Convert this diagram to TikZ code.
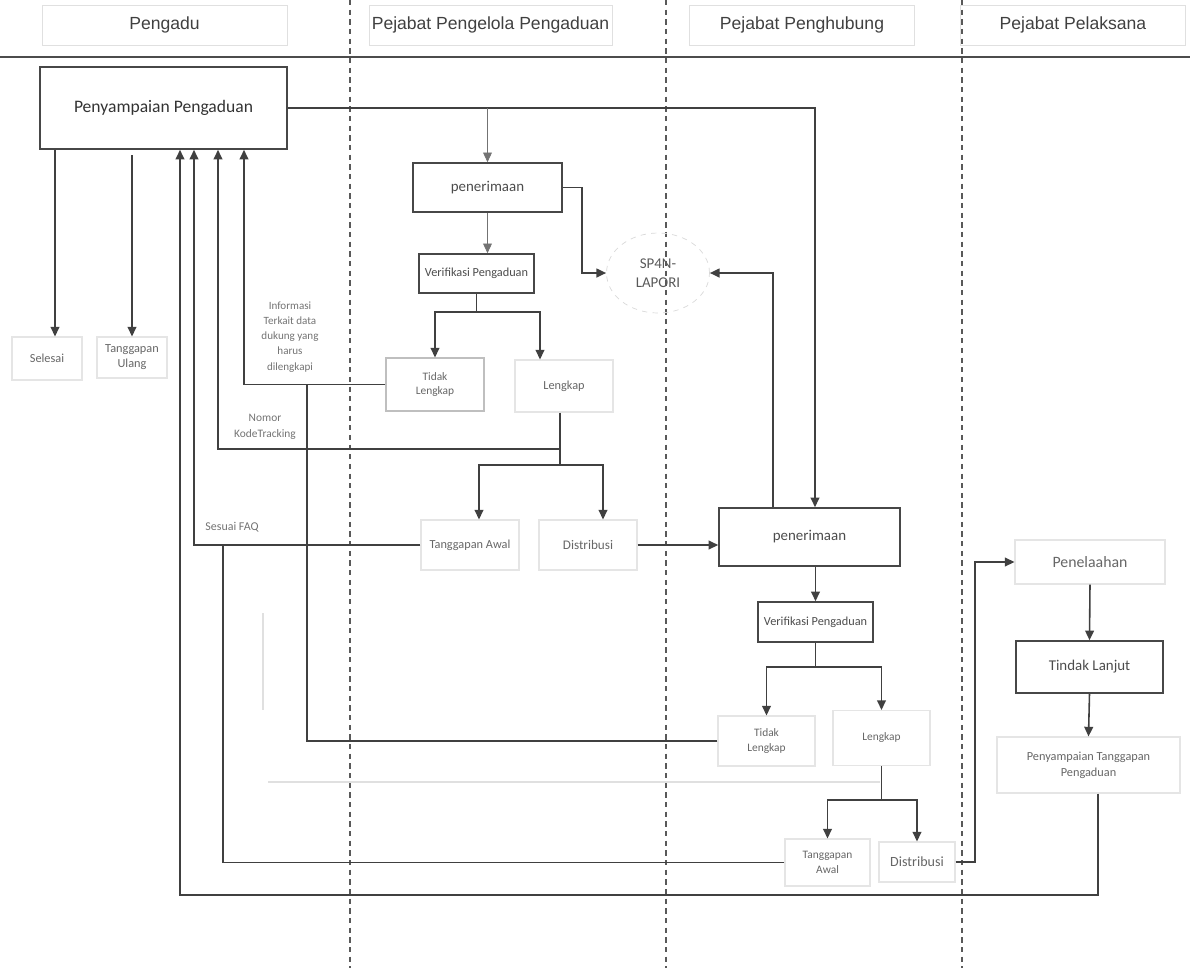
\documentclass[tikz,border=0pt]{standalone}
\usepackage{fontspec}
\setmainfont{Carlito}
\newfontfamily\headfont{Liberation Sans}
\usetikzlibrary{arrows.meta, shapes.geometric}

\tikzset{
    lanehead/.style = {draw = black!12, minimum height = 0.8cm, inner sep = 0pt,
        font = \headfont\fontsize{10}{12}\selectfont, text = black!75},
    procbox/.style = {draw = black!72, line width = 0.9pt, inner sep = 1pt, align = center, text = black!70},
    softbox/.style = {draw = black!10, line width = 0.6pt, inner sep = 1pt, align = center, text = black!60},
    note/.style = {align = center, text = black!55, font = \fontsize{6.3}{8.6}\selectfont},
    flow/.style = {draw = black!75, line width = 0.9pt},
    flowarr/.style = {flow, -{Triangle[length = 5.5pt, width = 5pt]}},
    lane/.style = {draw = black!65, line width = 0.6pt, dash pattern = on 3pt off 2.5pt},
    ghost/.style = {draw = black!12, line width = 0.6pt},
}

\begin{document}
\begin{tikzpicture}[x = 0.02cm, y = -0.02cm]
                \useasboundingbox (0, 0) rectangle (1198, 968);

                \foreach \lx in {350, 666, 962}
                    \draw[lane] (\lx, 0) -- (\lx, 968);
                \draw[draw = black!70, line width = 0.9pt] (0, 57) -- (1190, 57);

                \node[lanehead, minimum width = 4.9cm] (hPengadu) at (164.5, 25) {Pengadu};
                \node[lanehead, minimum width = 4.86cm] (hPengelola) at (490.5, 25) {Pejabat Pengelola Pengaduan};
                \node[lanehead, minimum width = 4.5cm] (hPenghubung) at (802, 25) {Pejabat Penghubung};
                \node[lanehead, minimum width = 4.5cm] (hPelaksana) at (1073, 25) {Pejabat Pelaksana};

                \node[procbox, minimum width = 4.94cm, minimum height = 1.64cm, font = \fontsize{10}{12}\selectfont,
                    text = black!80] (sampai) at (163.5, 108) {Penyampaian Pengaduan};
                \node[softbox, minimum width = 1.4cm, minimum height = 0.86cm, font = \fontsize{7}{8}\selectfont]
                    (selesai) at (47, 358.5) {Selesai};
                \node[softbox, minimum width = 1.4cm, minimum height = 0.82cm, font = \fontsize{7}{8.5}\selectfont]
                    (ulang) at (132, 357.5) {Tanggapan\\Ulang};

                \node[procbox, minimum width = 2.98cm, minimum height = 0.98cm, font = \fontsize{8.5}{10}\selectfont]
                    (terima1) at (487.5, 187.5) {penerimaan};
                \node[procbox, minimum width = 2.3cm, minimum height = 0.78cm, font = \fontsize{7}{8}\selectfont]
                    (verif1) at (476.5, 273.5) {Verifikasi Pengaduan};
                \node[softbox, draw = black!25, minimum width = 1.96cm, minimum height = 1.06cm,
                    font = \fontsize{6.5}{8.5}\selectfont] (tidak1) at (435, 384.5) {Tidak\\Lengkap};
                \node[softbox, minimum width = 1.96cm, minimum height = 1.04cm, font = \fontsize{7}{8}\selectfont]
                    (lengkap1) at (564, 386) {Lengkap};
                \node[softbox, minimum width = 1.96cm, minimum height = 1cm, font = \fontsize{7}{8}\selectfont]
                    (awal1) at (470, 545) {Tanggapan Awal};
                \node[softbox, minimum width = 1.96cm, minimum height = 1cm, font = \fontsize{7.5}{8}\selectfont]
                    (distr1) at (588, 545) {Distribusi};
                \node[ellipse, draw = black!15, dashed, minimum width = 2.06cm, minimum height = 1.6cm, inner sep = 0pt,
                    align = center, text = black!65, font = \fontsize{8.5}{11}\selectfont] (lapor) at (658, 273) {SP4N-\\LAPORI};

                \node[procbox, minimum width = 3.62cm, minimum height = 1.16cm, font = \fontsize{8.5}{10}\selectfont]
                    (terima2) at (809.5, 537) {penerimaan};
                \node[procbox, minimum width = 2.3cm, minimum height = 0.8cm, font = \fontsize{7}{8}\selectfont]
                    (verif2) at (815.5, 622) {Verifikasi Pengaduan};
                \node[softbox, minimum width = 1.94cm, minimum height = 1cm, font = \fontsize{6.5}{8.5}\selectfont]
                    (tidak2) at (766.5, 741) {Tidak\\Lengkap};
                \node[softbox, minimum width = 1.94cm, minimum height = 1.1cm, font = \fontsize{6.5}{8}\selectfont]
                    (lengkap2) at (881.5, 738) {Lengkap};
                \node[softbox, minimum width = 1.7cm, minimum height = 0.94cm, font = \fontsize{6.5}{8.5}\selectfont]
                    (awal2) at (827.5, 862.5) {Tanggapan\\Awal};
                \node[softbox, minimum width = 1.52cm, minimum height = 0.8cm, font = \fontsize{8}{9}\selectfont]
                    (distr2) at (917, 862) {Distribusi};

                \node[softbox, minimum width = 3cm, minimum height = 0.88cm, font = \fontsize{9}{10}\selectfont]
                    (telaah) at (1090, 562) {Penelaahan};
                \node[procbox, minimum width = 2.94cm, minimum height = 1.04cm, font = \fontsize{8.5}{10}\selectfont]
                    (tindak) at (1089.5, 667) {Tindak Lanjut};
                \node[softbox, minimum width = 3.66cm, minimum height = 1.12cm, font = \fontsize{7}{9}\selectfont]
                    (balas) at (1088.5, 765) {Penyampaian Tanggapan\\Pengaduan};

                \node[note] (infonote) at (290, 337) {Informasi\\Terkait data\\dukung yang\\harus\\dilengkapi};
                \node[note, font = \fontsize{6.5}{9}\selectfont] (kodenote) at (265, 427) {Nomor\\KodeTracking};
                \node[note, font = \fontsize{6.8}{8}\selectfont] (faqnote) at (232, 527) {Sesuai FAQ};

                \coordinate (cSel) at (55, 0);
                \coordinate (cLoop) at (180, 0);
                \coordinate (cFaq) at (194, 0);
                \coordinate (cKode) at (218, 0);
                \coordinate (cFaq2) at (223, 0);
                \coordinate (cInfo) at (244, 0);
                \coordinate (cTidak2) at (307, 0);
                \coordinate (cLeng1) at (540, 0);
                \coordinate (cSpa) at (582, 0);
                \coordinate (cAw1) at (479, 0);
                \coordinate (cDs1) at (603, 0);
                \coordinate (cBack) at (773, 0);
                \coordinate (cMain) at (815, 0);
                \coordinate (cUp) at (975, 0);
                \coordinate (cBal) at (1098, 0);
                \coordinate (cBottom) at (0, 895);
                \coordinate (v1fork) at (476.5, 312);
                \coordinate (l1fork) at (560, 465);
                \coordinate (kodeJoin) at (560, 449);
                \coordinate (v2fork) at (815.5, 667);
                \coordinate (l2fork) at (881.5, 800);

                \draw[flowarr] (sampai.south -| cSel) -- (cSel |- selesai.north);
                \draw[flowarr, shorten < = 3pt] (sampai.south -| ulang.north) -- (ulang.north);

                \draw[flowarr] (sampai.east) -| (cMain |- terima2.north);
                \draw[flowarr, line width = 0.5pt, draw = black!55] (sampai.east -| terima1.north) -- (terima1.north);
                \draw[flowarr, line width = 0.5pt, draw = black!55] (terima1.south) -- (terima1.south |- verif1.north);
                \draw[flowarr] (terima1.east) -| (cSpa |- lapor.west) -- (lapor.west);

                \draw[flow] (verif1.south) -- (v1fork);
                \draw[flowarr] (v1fork) -| (tidak1.north);
                \draw[flowarr] (v1fork) -| (cLeng1 |- lengkap1.north);

                \draw[flowarr] (tidak1.west) -| (cInfo |- sampai.south);
                \draw[flow] (tidak2.west) -| (cTidak2 |- tidak1.west);

                \draw[flow] (lengkap1.south -| l1fork) -- (l1fork);
                \draw[flowarr] (l1fork) -| (cAw1 |- awal1.north);
                \draw[flowarr] (l1fork) -| (cDs1 |- distr1.north);
                \draw[flowarr] (kodeJoin) -| (cKode |- sampai.south);

                \draw[flowarr] (awal1.west) -| (cFaq |- sampai.south);
                \draw[flow] (awal2.west) -| (cFaq2 |- awal1.west);

                \draw[flowarr] (distr1.east) -- (distr1.east -| terima2.west);
                \draw[flowarr] (cBack |- terima2.north) |- (lapor.east);
                \draw[flowarr] (verif2.north |- terima2.south) -- (verif2.north);

                \draw[flow] (verif2.south) -- (v2fork);
                \draw[flowarr] (v2fork) -| (tidak2.north);
                \draw[flowarr] (v2fork) -| (lengkap2.north);

                \draw[flow] (lengkap2.south) -- (l2fork);
                \draw[flowarr] (l2fork) -| (awal2.north);
                \draw[flowarr] (l2fork) -| (distr2.north);

                \draw[flowarr] (distr2.east) -| (cUp |- telaah.west) -- (telaah.west);
                \draw[flowarr] (telaah.south) -- (tindak.north);
                \draw[flowarr] (tindak.south) -- (balas.north);
                \draw[flowarr] (cBal |- balas.south) -- (cBal |- cBottom) -| (cLoop |- sampai.south);

                \draw[ghost] (263, 613) -- (263, 710);
                \draw[ghost] (268, 782) -- (880, 782);
            \end{tikzpicture}
\end{document}
